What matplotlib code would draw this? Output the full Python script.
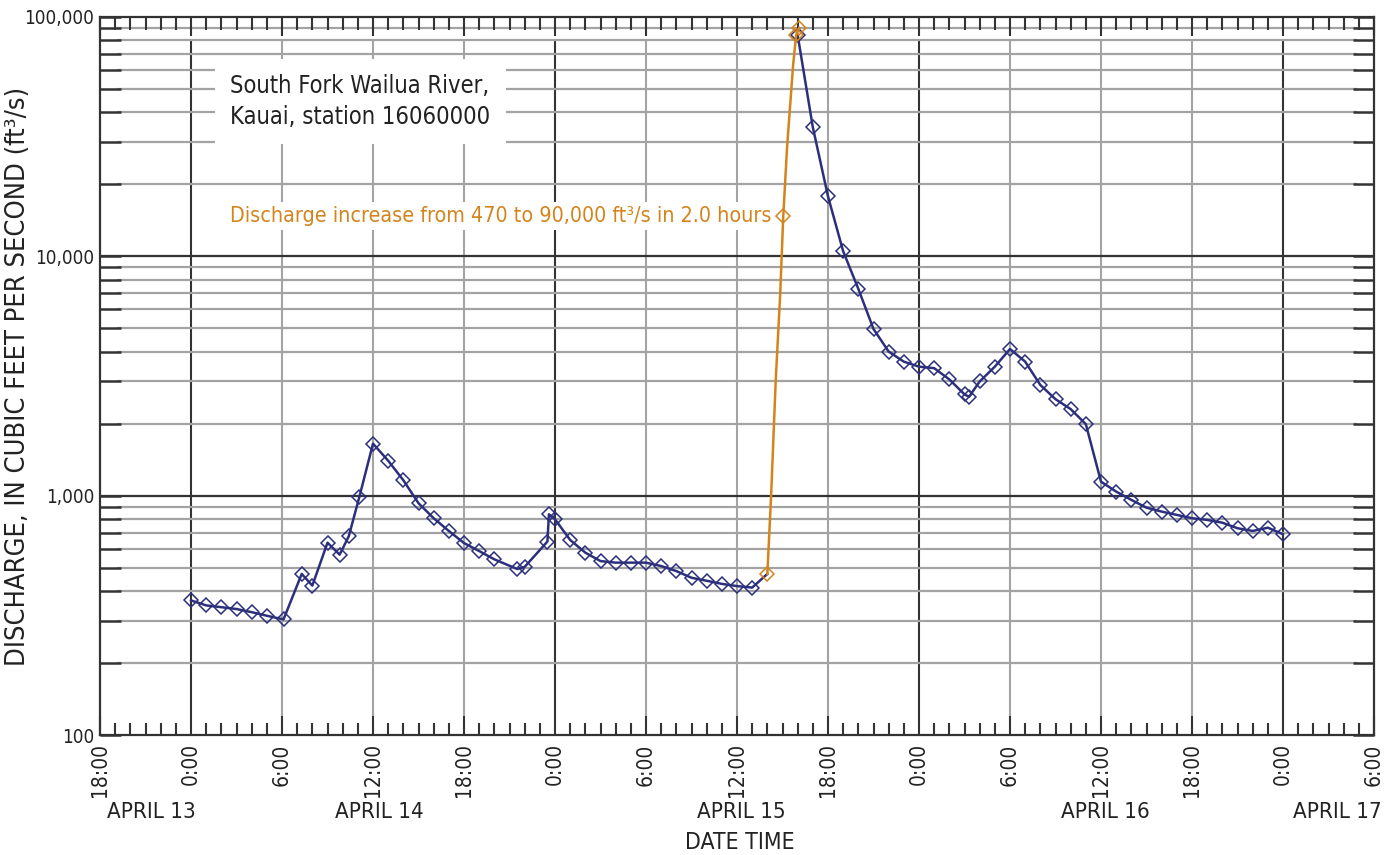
import matplotlib
matplotlib.use("Agg")
import matplotlib.pyplot as plt
import matplotlib.ticker as mticker
import matplotlib.transforms as mtrans
import numpy as np

plt.rcParams['font.family'] = ['DejaVu Sans']
plt.rcParams['font.stretch'] = 'condensed'

# hours since 0:00 April 14 and discharge in ft3/s
blue_pre_hours = [0.0, 1.0, 2.0, 3.0, 4.0, 5.0, 6.1, 7.3, 8.0, 9.0, 9.8, 10.4,
                  11.1, 12.0, 13.0, 14.0, 15.0, 16.0, 17.0, 18.0, 19.0, 20.0,
                  21.5, 22.0, 23.5, 23.6, 24.0, 25.0, 26.0, 27.0, 28.0, 29.0,
                  30.0, 31.0, 32.0, 33.0, 34.0, 35.0, 36.0, 37.0, 38.0]
blue_pre_q = [365, 348, 342, 336, 326, 315, 304, 471, 421, 636, 567, 676,
              988, 1650, 1400, 1160, 930, 805, 712, 634, 587, 542,
              494, 504, 643, 836, 797, 653, 578, 533, 525, 525,
              525, 508, 484, 454, 441, 428, 419, 413, 471]

rise_hours = [38.0, 38.25, 38.55, 38.85, 39.05, 39.3, 39.7, 39.9, 40.1]
rise_q = [471, 1000, 3000, 7000, 14700, 28500, 63000, 84000, 90000]
rise_marked = [0, 4, 7, 8]

blue_post_hours = [40.0, 41.0, 42.0, 43.0, 44.0, 45.0, 46.0, 47.0, 48.0, 49.0,
                   50.0, 51.0, 51.3, 52.0, 53.0, 54.0, 55.0, 56.0, 57.0, 58.0,
                   59.0, 60.0, 61.0, 62.0, 63.0, 64.0, 65.0, 66.0, 67.0, 68.0,
                   69.0, 70.0, 71.0, 72.0]
blue_post_q = [84000, 34600, 17800, 10500, 7310, 4970, 4000, 3630, 3460, 3410,
               3060, 2650, 2590, 3000, 3460, 4100, 3630, 2900, 2530, 2300,
               1990, 1144, 1040, 960, 891, 858, 831, 805, 792, 771,
               731, 712, 735, 690]

day_labels = ['APRIL 13', 'APRIL 14', 'APRIL 15', 'APRIL 16', 'APRIL 17']
day_label_pos = [-2.6, 12.4, 36.3, 60.3, 75.6]

NAVY = '#2c2f7c'
ORANGE = '#d4841c'
DARK = '#333333'
GRAY = '#a3a3a3'
TXT = '#222222'

fig = plt.figure(figsize=(13.98, 8.55), dpi=100)
ax = fig.add_axes([100 / 1398, 1 - 735 / 855, 1274 / 1398, 718 / 855])

ax.set_yscale('log')
ax.set_xlim(-6, 78)
ax.set_ylim(100, 100000)

# grid lines (kept clear of the tick marks like the original)
for h in range(0, 78, 6):
    col = DARK if h % 24 == 0 else GRAY
    ax.axvline(h, ymin=0.028, ymax=0.965, color=col, lw=1.5, zorder=1)
for dec in [100, 1000, 10000]:
    for m in range(1, 10):
        v = dec * m
        if v == 100:
            continue
        if m == 1:
            ax.axhline(v, color=DARK, lw=1.6, zorder=1)
        else:
            ax.axhline(v, xmin=0.014, xmax=0.986, color=GRAY, lw=1.6, zorder=1)

ax.plot(blue_pre_hours, blue_pre_q, color=NAVY, lw=1.8, marker='D', ms=7,
        mfc='none', mec=NAVY, mew=1.1, markevery=slice(0, -1), zorder=3)
ax.plot(rise_hours, rise_q, color=ORANGE, lw=1.8, marker='D', ms=7,
        mfc='none', mec=ORANGE, mew=1.1, markevery=rise_marked, zorder=4)
ax.plot(blue_post_hours, blue_post_q, color=NAVY, lw=1.8, marker='D', ms=7,
        mfc='none', mec=NAVY, mew=1.1, zorder=3)

# ticks
ax.xaxis.set_major_locator(mticker.MultipleLocator(6))
ax.xaxis.set_minor_locator(mticker.MultipleLocator(1))
ax.xaxis.set_major_formatter(mticker.FuncFormatter(lambda h, p: f"{int(h % 24)}:00"))
ax.yaxis.set_major_locator(mticker.LogLocator(base=10, numticks=10))
ax.yaxis.set_minor_locator(mticker.LogLocator(base=10, subs=np.arange(2, 10), numticks=10))
ax.yaxis.set_minor_formatter(mticker.NullFormatter())
ax.yaxis.set_major_formatter(mticker.FuncFormatter(lambda v, p: f"{int(v):,}"))

ax.tick_params(axis='x', which='both', direction='in', top=True, bottom=True,
               color=DARK, width=1.5, labelsize=15, labelrotation=90, pad=6,
               labelcolor=TXT)
ax.tick_params(axis='x', which='major', length=14)
ax.tick_params(axis='x', which='minor', length=9)
ax.tick_params(axis='y', which='both', direction='in', left=True, right=True,
               color=DARK, width=1.8, length=15, labelsize=13.5, pad=4,
               labelcolor=TXT)
for lab in ax.get_xticklabels():
    lab.set_va('top')

for s in ax.spines.values():
    s.set_color(DARK)
    s.set_linewidth(1.6)

ax.set_ylabel('DISCHARGE, IN CUBIC FEET PER SECOND (ft³/s)', fontsize=19.5,
              color=TXT)
ax.yaxis.set_label_coords(-0.0545, 0.5)

trans = mtrans.blended_transform_factory(ax.transData, ax.transAxes)
for lab, pos in zip(day_labels, day_label_pos):
    ax.text(pos, -0.107, lab, transform=trans, ha='center', va='center',
            fontsize=16, color=TXT)
ax.text(36.2, -0.150, 'DATE TIME', transform=trans, ha='center', va='center',
        fontsize=16.5, color=TXT)

ax.text(2.6, 0.882, 'South Fork Wailua River,\nKauai, station 16060000',
        transform=trans, fontsize=17, color=TXT, ha='left', va='center',
        linespacing=1.35, zorder=2,
        bbox=dict(facecolor='white', edgecolor='none', pad=11))
ax.text(2.6, 14700, 'Discharge increase from 470 to 90,000 ft³/s in 2.0 hours',
        fontsize=15.4, color=ORANGE, ha='left', va='center', zorder=2,
        bbox=dict(facecolor='white', edgecolor='none', pad=3))

fig.savefig('out.png', dpi=100)
